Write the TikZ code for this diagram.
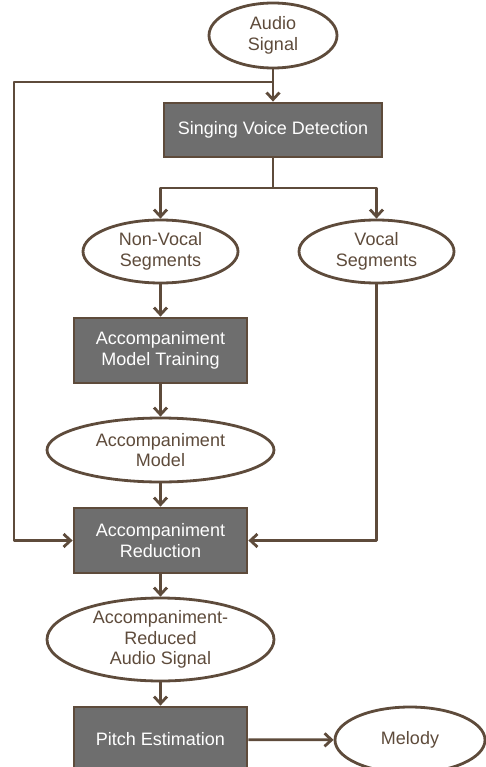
\documentclass[tikz,border=0pt]{standalone}
\usepackage{fontspec}
\setmainfont{Liberation Sans}
\usetikzlibrary{shapes.geometric,arrows.meta}
\definecolor{linebrown}{RGB}{94,75,59}
\definecolor{boxgray}{RGB}{110,110,110}
\tikzset{
  proc/.style={draw=linebrown, fill=boxgray, text=white, line width=2.8pt, align=center, inner sep=0pt},
  data/.style={ellipse, draw=linebrown, fill=white, text=linebrown, line width=2.8pt, align=center, inner sep=0pt},
  flow/.style={draw=linebrown, line width=2.8pt, line join=round}
}
\begin{document}
\begin{tikzpicture}[x=1pt, y=-1pt, font=\fontsize{18}{20.5}\selectfont, >={Straight Barb[length=7pt,width=13pt]}]
            \useasboundingbox (0,0) rectangle (485,767);
            % nodes
            \node[data, minimum width=128pt, minimum height=65pt] (audio) at (273,35.5) {Audio\\Signal};
            \node[proc, minimum width=218pt, minimum height=54pt] (svd) at (273,130) {Singing Voice Detection};
            \node[data, minimum width=155pt, minimum height=63pt] (nonvocal) at (160.5,251.5) {Non-Vocal\\Segments};
            \node[data, minimum width=155pt, minimum height=63pt] (vocal) at (376.5,251.5) {Vocal\\Segments};
            \node[proc, minimum width=173pt, minimum height=65pt] (amt) at (160.5,350.5) {Accompaniment\\Model Training};
            \node[data, minimum width=227pt, minimum height=64pt] (amodel) at (160.5,450) {Accompaniment\\Model};
            \node[proc, minimum width=173pt, minimum height=65pt] (ared) at (160.5,540.5) {Accompaniment\\Reduction};
            \node[data, minimum width=227pt, minimum height=83pt] (arsignal) at (160.5,639.5) {Accompaniment-\\Reduced\\Audio Signal};
            \node[proc, minimum width=173pt, minimum height=65pt] (pitch) at (160.5,739.5) {Pitch Estimation};
            \node[data, minimum width=150pt, minimum height=66pt] (melody) at (410,740) {Melody};
            % branch points
            \coordinate (split) at (273,82);
            \coordinate (lefttop) at (14,82);
            \coordinate (fork) at (273,188);
            % connectors
            \draw[flow,->] (audio) -- (svd);
            \draw[flow,->] (split) -- (lefttop) |- (ared.west);
            \draw[flow] (svd) -- (fork);
            \draw[flow,->] (fork) -| (nonvocal);
            \draw[flow,->] (fork) -| (vocal);
            \draw[flow,->] (nonvocal) -- (amt);
            \draw[flow,->] (amt) -- (amodel);
            \draw[flow,->] (amodel) -- (ared);
            \draw[flow,->] (vocal) |- (ared.east);
            \draw[flow,->] (ared) -- (arsignal);
            \draw[flow,->] (arsignal) -- (pitch);
            \draw[flow,->] (pitch) -- (melody);
\end{tikzpicture}
\end{document}
